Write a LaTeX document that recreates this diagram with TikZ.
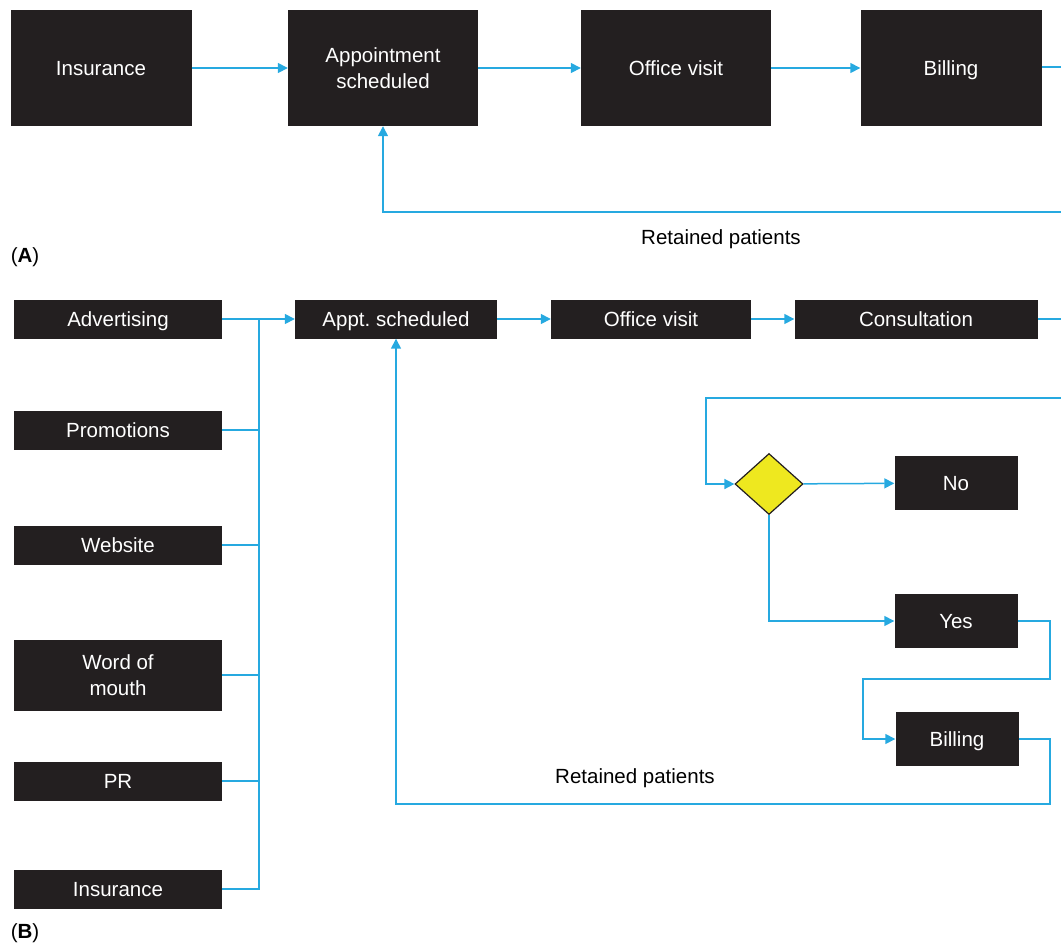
\documentclass[tikz,border=0pt]{standalone}
\usepackage{fontspec}
\setmainfont{Liberation Sans}
\usetikzlibrary{arrows.meta, shapes.geometric, positioning}
\definecolor{BoxBlack}{RGB}{35, 31, 32}
\definecolor{FlowCyan}{RGB}{38, 169, 224}
\definecolor{DecideYellow}{RGB}{238, 232, 31}

\tikzset{
    plate/.style={fill=BoxBlack, text=white, inner sep=0pt,
        font=\fontsize{20.5}{26}\selectfont},
    box/.style={plate, align=center},
    oneline/.style={plate, text height=14.8pt, text depth=0pt},
    wire/.style={draw=FlowCyan, line width=1.5pt},
    flow/.style={wire, -{Triangle[length=10pt, width=10pt]}},
    caption/.style={font=\fontsize{20.5}{24}\selectfont}
}

\begin{document}
\begin{tikzpicture}[x=1pt, y=-1pt]
    \useasboundingbox (0,0) rectangle (1061,946);
    % (A) simple loop
    \node[oneline, minimum width=181, minimum height=116] (insA) at (101,68) {Insurance};
    \node[box, minimum width=190, minimum height=116] (apptA) at (383,68) {Appointment\\scheduled};
    \node[oneline, minimum width=190, minimum height=116] (officeA) at (676,68) {Office visit};
    \node[oneline, minimum width=181, minimum height=116] (billA) at (951,68) {Billing};
    \coordinate (edgeA1) at (1061,67);
    \coordinate (edgeA2) at (1061,212);
    \draw[flow] (insA) -- (apptA);
    \draw[flow] (apptA) -- (officeA);
    \draw[flow] (officeA) -- (billA);
    \draw[wire] (billA.east |- edgeA1) -- (edgeA1);
    \draw[flow] (edgeA2) -| (apptA);
    \node[caption] (retA) at (721,239) {Retained patients};
    \node[caption] (tagA) at (25,257) {({\bfseries A})};

    % (B) sources and decision
    \node[oneline, minimum width=208, minimum height=39] (advert) at (118,319) {Advertising};
    \node[oneline, minimum width=208, minimum height=39] (promo) at (118,430) {Promotions};
    \node[oneline, minimum width=208, minimum height=39] (web) at (118,545) {Website};
    \node[box, minimum width=208, minimum height=71] (mouth) at (118,675) {Word of\\mouth};
    \node[oneline, minimum width=208, minimum height=39] (pr) at (118,781) {PR};
    \node[oneline, minimum width=208, minimum height=39] (insB) at (118,889) {Insurance};
    \node[oneline, minimum width=202, minimum height=39] (apptB) at (396,319) {Appt.\ scheduled};
    \node[oneline, minimum width=200, minimum height=39] (officeB) at (651,319) {Office visit};
    \node[oneline, minimum width=243, minimum height=39] (consult) at (916,319) {Consultation};
    \node[diamond, draw=BoxBlack, line width=1.2pt, fill=DecideYellow, inner sep=0pt,
        minimum width=68, minimum height=61] (decide) at (769,484) {};
    \node[oneline, minimum width=123, minimum height=54] (no) at (956,483) {No};
    \node[oneline, minimum width=123, minimum height=54] (yes) at (956,621) {Yes};
    \node[oneline, minimum width=123, minimum height=54] (billB) at (957,739) {Billing};
    \coordinate (bus) at (259,319);
    \coordinate (edgeB1) at (1061,319);
    \coordinate (edgeB2) at (1061,398);
    \coordinate (loopL) at (706,484);
    \coordinate (bendA) at (1050,679);
    \coordinate (bendB) at (863,679);
    \coordinate (bendC) at (1050,804);

    \draw[flow] (advert) -- (apptB);
    \draw[wire] (insB) -| (bus);
    \foreach \src in {promo, web, mouth, pr} {
        \draw[wire] (\src) -- (\src -| bus);
    }
    \draw[flow] (apptB) -- (officeB);
    \draw[flow] (officeB) -- (consult);
    \draw[wire] (consult) -- (edgeB1);
    \draw[flow] (edgeB2) -| (loopL) -- (decide);
    \draw[flow] (decide) -- (no);
    \draw[flow] (decide) |- (yes);
    \draw[flow] (yes) -| (bendA) -- (bendB) |- (billB);
    \draw[flow] (billB) -| (bendC) -| (apptB);
    \node[caption] (retB) at (635,778) {Retained patients};
    \node[caption] (tagB) at (25,933) {({\bfseries B})};
\end{tikzpicture}
\end{document}
